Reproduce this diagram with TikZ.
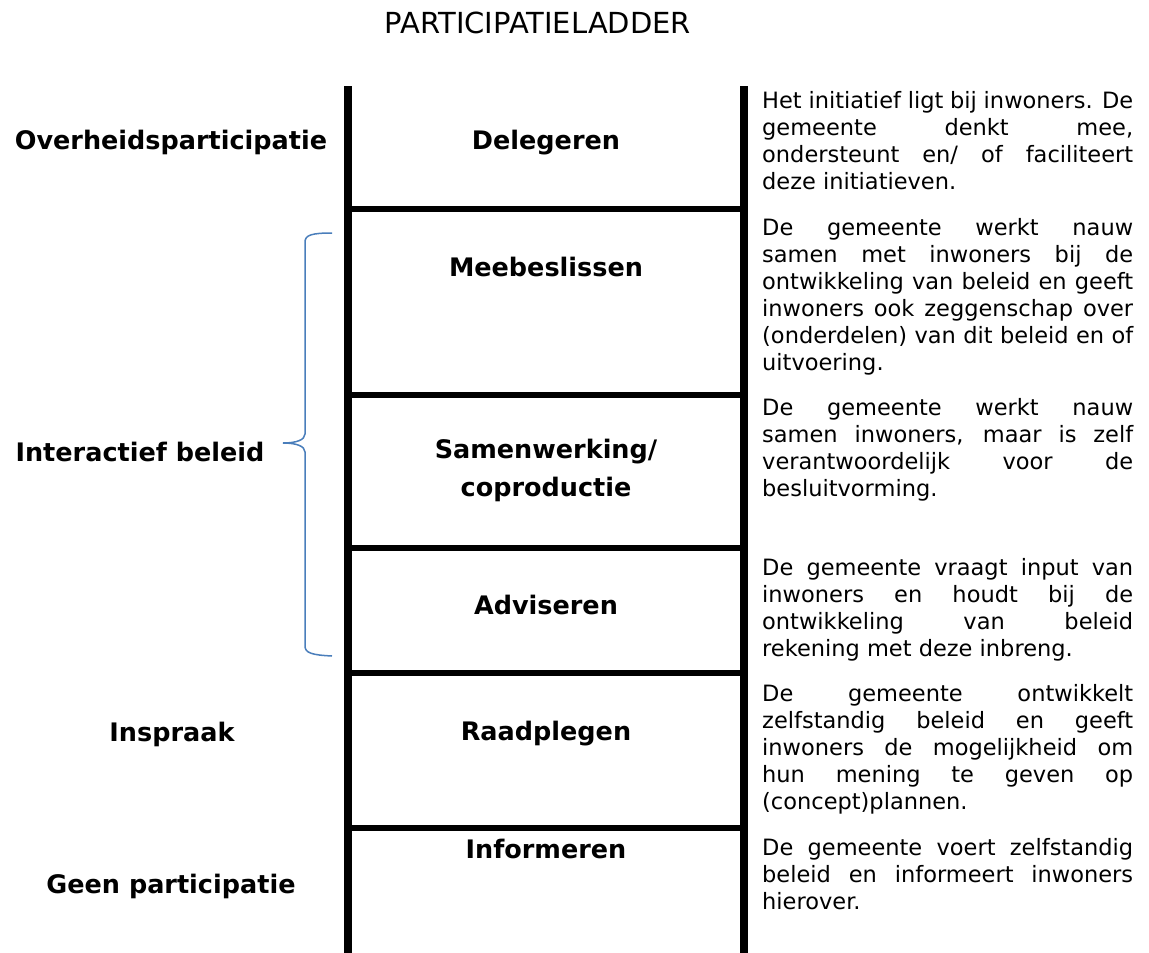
\documentclass[tikz,border=0pt]{standalone}
\usepackage{fontspec}
\setmainfont{DejaVu Sans}
\definecolor{bracecol}{HTML}{4A7EBB}
\newcommand{\labelfont}{\fontsize{25.5}{38}\selectfont\bfseries}
\newcommand{\parafont}{\fontsize{22.5}{27}\selectfont}
\begin{document}
\begin{tikzpicture}[x=1pt, y=-1pt]
			\tikzset{rail/.style={line width=8pt},
				rung/.style={line width=6pt},
				rungtext/.style={anchor=base, font=\labelfont, align=center, inner sep=0pt},
				sidetext/.style={anchor=base, font=\labelfont, inner sep=0pt},
				expl/.style={anchor=base west, text width=371pt, align=justify, font=\parafont, inner sep=0pt}};
			\useasboundingbox (0,0) rectangle (1149,953);

			\node[anchor=base, font=\fontsize{29}{34}\selectfont, inner sep=0pt] (title) at (538,34) {PARTICIPATIELADDER};

			% ladder
			\draw[rail] (348,86) -- (348,953);
			\draw[rail] (743.5,86) -- (743.5,953);
			\draw[rung] (348,209) -- (743.5,209);
			\draw[rung] (348,395) -- (743.5,395);
			\draw[rung] (348,548) -- (743.5,548);
			\draw[rung] (348,673) -- (743.5,673);
			\draw[rung] (348,828) -- (743.5,828);

			\node[rungtext] (r1) at (546,149) {Delegeren};
			\node[rungtext] (r2) at (546,276) {Meebeslissen};
			\node[rungtext] (r3) at (546,496) {Samenwerking/\\coproductie};
			\node[rungtext] (r4) at (546,614) {Adviseren};
			\node[rungtext] (r5) at (546,740) {Raadplegen};
			\node[rungtext] (r6) at (546,858) {Informeren};

			\node[sidetext] (s1) at (171,149) {Overheidsparticipatie};
			\node[sidetext] (s2) at (140,461) {Interactief beleid};
			\node[sidetext] (s3) at (172,741) {Inspraak};
			\node[sidetext] (s4) at (171,893) {Geen participatie};

			% brace
			\draw[bracecol, line width=1.5pt] (332,233) .. controls (312,233) and (305,235) .. (305,242)
				-- (305,434) .. controls (305,440) and (296,443) .. (283,443)
				.. controls (296,443) and (305,446) .. (305,452)
				-- (305,646) .. controls (305,653) and (312,655) .. (332,656);

			\node[expl] (e1) at (762,108) {Het initiatief ligt bij inwoners. De \linebreak gemeente denkt mee, \linebreak ondersteunt en/ of faciliteert \linebreak deze initiatieven.};
			\node[expl] (e2) at (762,235) {De gemeente werkt nauw \linebreak samen met inwoners bij de \linebreak ontwikkeling van beleid en geeft \linebreak inwoners ook zeggenschap over \linebreak (onderdelen) van dit beleid en of \linebreak uitvoering.};
			\node[expl] (e3) at (762,415) {De gemeente werkt nauw \linebreak samen inwoners, maar is zelf \linebreak verantwoordelijk voor de \linebreak besluitvorming.};
			\node[expl] (e4) at (762,575) {De gemeente vraagt input van \linebreak inwoners en houdt bij de \linebreak ontwikkeling van beleid \linebreak rekening met deze inbreng.};
			\node[expl] (e5) at (762,701) {De gemeente ontwikkelt \linebreak zelfstandig beleid en geeft \linebreak inwoners de mogelijkheid om \linebreak hun mening te geven op \linebreak (concept)plannen.};
			\node[expl] (e6) at (762,855) {De gemeente voert zelfstandig \linebreak beleid en informeert inwoners \linebreak hierover.};
		\end{tikzpicture}
\end{document}
